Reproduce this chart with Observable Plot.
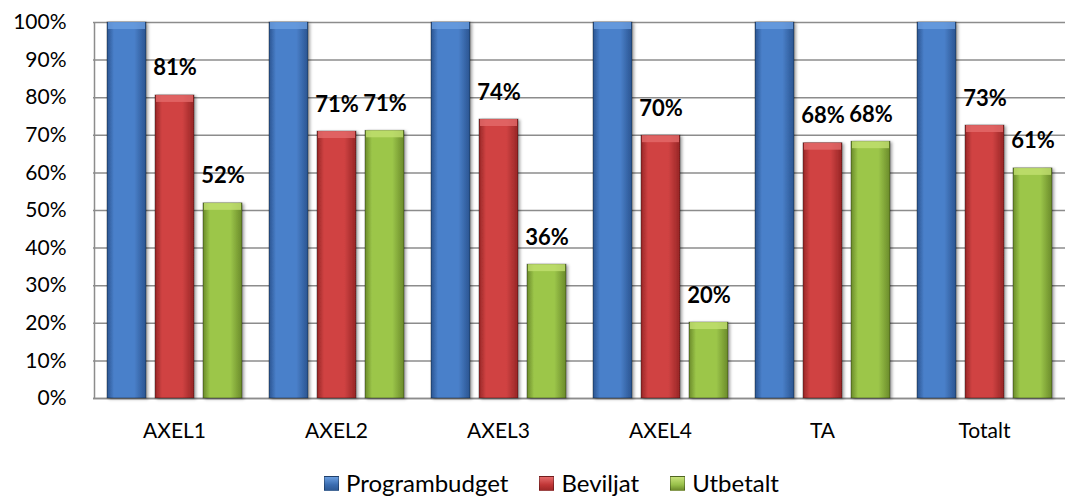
<!DOCTYPE html>
<html>
<head>
<meta charset="utf-8">
<script src="https://cdn.jsdelivr.net/npm/d3@7"></script>
<script src="https://cdn.jsdelivr.net/npm/@observablehq/plot@0.6"></script>
<style>
  body { margin: 0; background: #fff; font-family: Lato, "Open Sans", sans-serif; overflow: hidden; }
  #chart svg { display: block; }
  .legend { display: flex; justify-content: flex-start; gap: 31px; margin-top: 25px; margin-left: 324px; font-size: 24px; color: #000; line-height: 26px; }
  .legend span { display: inline-flex; align-items: center; }
  .sw { width: 15px; height: 15px; margin-right: 7px; display: inline-block; box-sizing: border-box; border: 1px solid rgba(0,0,0,0.3); }
</style>
</head>
<body>
<div id="chart"></div>
<div class="legend">
  <span><i class="sw" style="background:linear-gradient(180deg,#6a9ee0,#3a6cb0 60%,#2d5a96)"></i>Programbudget</span>
  <span><i class="sw" style="background:linear-gradient(180deg,#e46a6a,#c03636 60%,#a02828)"></i>Beviljat</span>
  <span><i class="sw" style="background:linear-gradient(180deg,#c8e27a,#98c04a 60%,#6e8c2c)"></i>Utbetalt</span>
</div>
<script>
const categories = ["AXEL1", "AXEL2", "AXEL3", "AXEL4", "TA", "Totalt"];
const series = ["Programbudget", "Beviljat", "Utbetalt"];
const programbudget = [100, 100, 100, 100, 100, 100];
const beviljat = [80.6, 71.0, 74.2, 69.9, 67.9, 72.6];
const utbetalt = [51.9, 71.2, 35.6, 20.2, 68.3, 61.2];
const yTicks = [0, 10, 20, 30, 40, 50, 60, 70, 80, 90, 100];

const seriesValues = [programbudget, beviljat, utbetalt];
const data = [];
categories.forEach((c, i) => series.forEach((s, j) => data.push({cat: c, series: s, value: seriesValues[j][i]})));
const labelled = data.filter(d => d.series !== "Programbudget");

const font = "Lato, 'Open Sans', sans-serif";
const plot = Plot.plot({
  width: 1067,
  height: 445,
  marginTop: 22,
  marginBottom: 47,
  marginLeft: 93,
  marginRight: 2,
  style: {fontFamily: font, fontSize: "21px", color: "#000", background: "#fff"},
  fx: {domain: categories, padding: 0, axis: "bottom", label: null, tickSize: 0, tickPadding: 25},
  x: {domain: series, paddingInner: 0.196, paddingOuter: 0.268, axis: null},
  y: {domain: [0, 100], ticks: yTicks, tickFormat: d => d + "%", label: null, tickSize: 0, tickPadding: 27},
  color: {domain: series, range: ["url(#gBlue)", "url(#gRed)", "url(#gGreen)"]},
  marks: [
    Plot.gridY(yTicks, {stroke: "#8c8c8c", strokeOpacity: 1, strokeWidth: 1.5}),
    Plot.ruleY([0], {stroke: "#8c8c8c", strokeWidth: 1.5}),
    Plot.ruleX([categories[0]], {fx: d => d, x: () => series[0], dx: -32.5, y1: 0, y2: 100, stroke: "#8c8c8c", strokeWidth: 1.5}),
    Plot.barY(data, {fx: "cat", x: "series", y: "value", fill: "series", stroke: "rgba(0,0,0,0.45)", strokeWidth: 0.8}),
    Plot.barY(data, {fx: "cat", x: "series", y1: "value", y2: "value", insetBottom: -7, insetLeft: 1, insetRight: 1, fill: "series"}),
    Plot.text(labelled, {fx: "cat", x: "series", y: "value", text: d => Math.round(d.value) + "%", dy: -27, fontWeight: "bold", fontSize: 22, fill: "#000"})
  ]
});
</script>
<script>
(function(){
  const container = document.getElementById("chart");
  container.appendChild(plot);
  const svg = d3.select(plot);
  const defs = svg.insert("defs", ":first-child");
  function hgrad(id, edge, mid) {
    const g = defs.append("linearGradient").attr("id", id).attr("x1", 0).attr("x2", 1).attr("y1", 0).attr("y2", 0);
    g.append("stop").attr("offset", "0%").attr("stop-color", edge);
    g.append("stop").attr("offset", "18%").attr("stop-color", mid);
    g.append("stop").attr("offset", "70%").attr("stop-color", mid);
    g.append("stop").attr("offset", "100%").attr("stop-color", edge);
  }
  hgrad("gBlue", "#2a5490", "#4a80ca");
  hgrad("gRed", "#962626", "#d04242");
  hgrad("gGreen", "#6a8a2a", "#9cc64a");
  const caps = {"url(#gBlue)": "#6a9ee0", "url(#gRed)": "#e46a6a", "url(#gGreen)": "#c2e070"};
  const f = defs.append("filter").attr("id", "shadow").attr("x", "-20%").attr("y", "-5%").attr("width", "150%").attr("height", "115%");
  f.append("feDropShadow").attr("dx", 2).attr("dy", 1).attr("stdDeviation", 1.5).attr("flood-color", "#000").attr("flood-opacity", 0.35);
  const bars = svg.selectAll("g[aria-label=bar]");
  bars.filter((d, i) => i === 0).selectAll("rect").attr("filter", "url(#shadow)");
  bars.filter((d, i) => i === 1).selectAll("rect").each(function(){
    const fill = d3.select(this).attr("fill") || "";
    d3.select(this).attr("fill", caps[fill] || "#fff").attr("fill-opacity", 0.8);
  });
})();
</script>
</body>
</html>
